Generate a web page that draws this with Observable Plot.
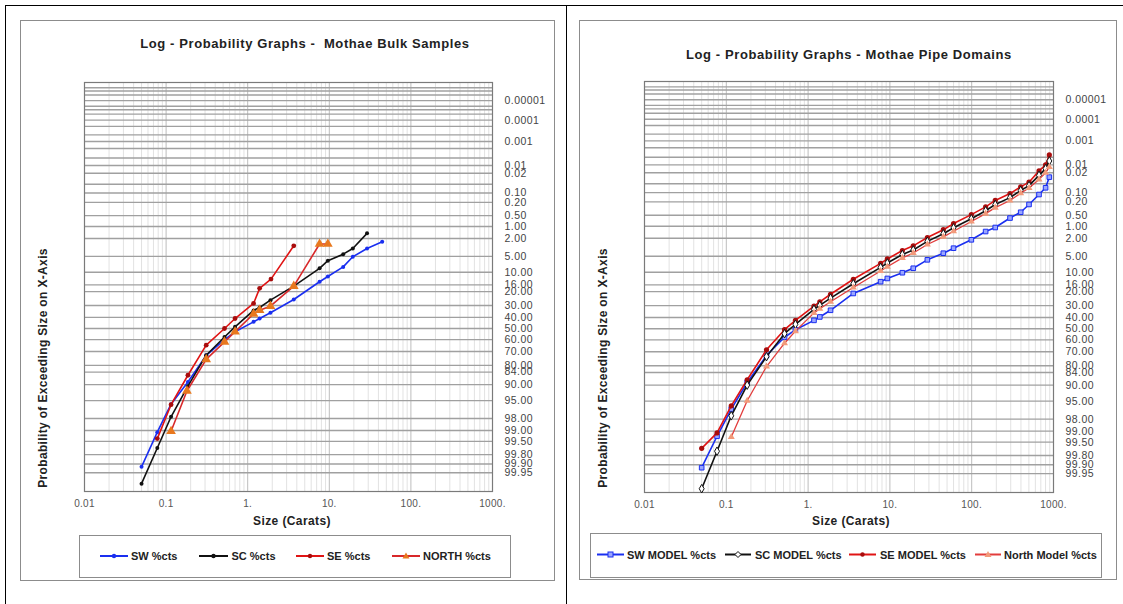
<!DOCTYPE html>
<html><head><meta charset="utf-8">
<script src="https://cdn.jsdelivr.net/npm/d3@7"></script>
<script src="https://cdn.jsdelivr.net/npm/@observablehq/plot@0.6"></script>
<style>
body{margin:0;background:#fff;}
#root{position:relative;width:1123px;height:604px;overflow:hidden;font-family:Arial,"Liberation Sans",sans-serif;color:#222;}
.abs{position:absolute;}
.title{font-weight:bold;font-size:13px;letter-spacing:0.6px;white-space:pre;text-align:center;width:440px;}
.ylab{font-weight:bold;font-size:12px;letter-spacing:0.35px;white-space:nowrap;transform:translate(-50%,-50%) rotate(-90deg);}
.xlab{font-weight:bold;font-size:12px;letter-spacing:0.4px;white-space:nowrap;transform:translate(-50%,-50%);}
.leg{font-weight:bold;font-size:11px;white-space:pre;transform:translateY(-50%);}
.box{border:1px solid #8c8c8c;box-sizing:border-box;}
svg [aria-label="y-axis tick label"] text{letter-spacing:0.45px;}
svg [aria-label="x-axis tick label"] text{letter-spacing:0.3px;}
</style></head><body><div id="root"></div>
<script>
// ---------- axis labels / ticks ----------
const xTickValues = [0.01, 0.1, 1, 10, 100, 1000];
const xTickLabels = ["0.01", "0.1", "1.", "10.", "100.", "1000."];
const yTickLabels = ["0.00001","0.0001","0.001","0.01","0.02","0.10","0.20","0.50","1.00","2.00","5.00","10.00","16.00","20.00","30.00","40.00","50.00","60.00","70.00","80.00","84.00","90.00","95.00","98.00","99.00","99.50","99.80","99.90","99.95"];
const gridPct = [0.000002,0.000003,0.000005,0.00001,0.00002,0.00003,0.00005,0.0001,0.0002,0.0005,0.001,0.002,0.005,0.01,0.02,0.05,0.1,0.2,0.5,1,2,5,10,16,20,30,40,50,60,70,80,84,90,95,98,99,99.5,99.8,99.9,99.95];
const yDomainPct = [99.99, 0.000001];

// ---------- Bulk samples (left) ----------
const bulkSW_size = [0.05,0.078,0.115,0.185,0.31,0.52,0.70,1.18,1.40,1.90,3.67,7.6,9.6,14.8,19.4,29,44.5];
const bulkSW_pct  = [99.92,99.1,95.8,88.9,73,60,53,44,41,36,25.4,14.3,11.8,8.0,5.1,3.4,2.4];
const bulkSC_size = [0.05,0.078,0.115,0.185,0.31,0.52,0.70,1.18,1.40,1.90,3.67,7.6,9.6,14.8,19.4,29];
const bulkSC_pct  = [99.98,99.68,97.8,90.6,72.9,57.7,48.5,34,31.6,25.9,16.7,8.5,6.1,4.5,3.4,1.5];
const bulkSE_size = [0.078,0.115,0.185,0.31,0.52,0.70,1.18,1.40,1.93,3.67];
const bulkSE_pct  = [99.4,95.9,85.7,64.8,50,41,28.4,18,13,2.96];
const bulkNO_size = [0.115,0.18,0.31,0.52,0.70,1.18,1.40,1.90,3.67,7.6,9.6];
const bulkNO_pct  = [99.05,92.3,76,62,53,37,33.8,30.5,16.7,2.7,2.7];

// ---------- Pipe domains models (right) ----------
const modSW_size = [0.05,0.077,0.115,0.18,0.31,0.515,0.70,1.18,1.39,1.88,3.57,7.7,9.3,14.2,19.3,28.7,45,60,99,148,194,294,397,502,665,800,889];
const modSW_pct  = [99.92,99.27,96.6,88.9,72.9,57.7,51,42.5,39.5,33.8,21.2,14.3,12.7,10.2,8.5,5.9,4.33,3.38,2.18,1.37,1.08,0.6,0.41,0.24,0.116,0.069,0.029];
const modSC_size = [0.05,0.077,0.115,0.18,0.31,0.515,0.70,1.18,1.39,1.88,3.57,7.7,9.3,14.2,19.3,28.7,45,60,99,148,194,294,397,502,665,800,889];
const modSC_pct  = [99.986,99.73,97.6,90,73.7,54.5,46,33,29.8,24.4,15.4,8.2,6.8,4.6,3.7,2.37,1.56,1.1,0.63,0.37,0.24,0.146,0.085,0.058,0.025,0.014,0.007];
const modSE_size = [0.05,0.077,0.115,0.18,0.31,0.515,0.70,1.18,1.39,1.88,3.57,7.7,9.3,14.2,19.3,28.7,45,60,99,148,194,294,397,502,665,800,889];
const modSE_pct  = [99.67,99.1,96,87.7,68.4,50.9,42.5,30.5,27.2,21.7,13.1,6.9,5.67,3.8,3.0,1.92,1.23,0.85,0.48,0.285,0.18,0.108,0.064,0.044,0.017,0.010,0.004];
const modNO_size = [0.115,0.18,0.31,0.515,0.70,1.18,1.39,1.88,3.57,7.7,9.3,14.2,19.3,28.7,45,60,99,148,194,294,397,502,665,800,889];
const modNO_pct  = [99.3,94.9,80.5,62.9,52.2,36,32.5,27,17.5,9.5,8,5.4,4.3,2.8,1.85,1.35,0.75,0.45,0.3,0.18,0.105,0.07,0.035,0.02,0.012];

// ---------- helpers ----------
function invNorm(p){
  const a=[-3.969683028665376e+01,2.209460984245205e+02,-2.759285104469687e+02,1.383577518672690e+02,-3.066479806614716e+01,2.506628277459239e+00];
  const b=[-5.447609879822406e+01,1.615858368580409e+02,-1.556989798598866e+02,6.680131188771972e+01,-1.328068155288572e+01];
  const c=[-7.784894002430293e-03,-3.223964580411365e-01,-2.400758277161838e+00,-2.549732539343734e+00,4.374664141464968e+00,2.938163982698783e+00];
  const d=[7.784695709041462e-03,3.224671290700398e-01,2.445134137142996e+00,3.754408661907416e+00];
  const pl=0.02425;
  if(p<pl){const q=Math.sqrt(-2*Math.log(p));return (((((c[0]*q+c[1])*q+c[2])*q+c[3])*q+c[4])*q+c[5])/((((d[0]*q+d[1])*q+d[2])*q+d[3])*q+1);}
  if(p<=1-pl){const q=p-0.5,r=q*q;return (((((a[0]*r+a[1])*r+a[2])*r+a[3])*r+a[4])*r+a[5])*q/(((((b[0]*r+b[1])*r+b[2])*r+b[3])*r+b[4])*r+1);}
  const q=Math.sqrt(-2*Math.log(1-p));return -(((((c[0]*q+c[1])*q+c[2])*q+c[3])*q+c[4])*q+c[5])/((((d[0]*q+d[1])*q+d[2])*q+d[3])*q+1);
}
// probability of exceeding (in %) -> standard normal position (upwards = rarer)
const zOf = pct => -invNorm(pct/100);
const rows = (sizes, pcts) => sizes.map((s,i)=>({size:s, z:zOf(pcts[i])}));

const yTickZ = yTickLabels.map(l => zOf(parseFloat(l)));
const yLabelMap = new Map(yTickZ.map((z,i)=>[z, yTickLabels[i]]));
const xLabelMap = new Map(xTickValues.map((v,i)=>[v, xTickLabels[i]]));
const gridZ = gridPct.map(zOf);
const minorX = [];
for (let e=-2;e<3;e++) for (let k=2;k<10;k++) minorX.push(k*Math.pow(10,e));

const FONT = 'Arial, "Liberation Sans", sans-serif';

function panel(opts){
  const {width,height,ml,mr,mt,mb,series} = opts;
  const marks = [
    Plot.ruleX(minorX, {stroke:"#e2e2e2", strokeWidth:1}),
    Plot.ruleX(xTickValues, {stroke:"#bdbdbd", strokeWidth:1}),
    Plot.ruleY(gridZ, {stroke:"#a0a0a0", strokeWidth:1.4}),
    Plot.frame({stroke:"#7a7a7a", strokeWidth:1.2}),
    Plot.axisX({ticks:xTickValues, tickFormat:d=>xLabelMap.get(d), tickSize:0, tickPadding:8, fontSize:10, fill:"#555", label:null}),
    Plot.axisY({anchor:"right", ticks:yTickZ, tickFormat:d=>yLabelMap.get(d), tickSize:0, tickPadding:12, fontSize:10.5, fill:"#444", label:null})
  ];
  for (const s of series){
    marks.push(Plot.line(s.data, {x:"size", y:"z", stroke:s.color, strokeWidth:s.sw||1.6}));
    marks.push(Plot.dot(s.data, {x:"size", y:"z", symbol:s.symbol, r:s.r, fill:s.fill, stroke:s.mstroke||"none", strokeWidth:1}));
  }
  return Plot.plot({
    width, height, marginLeft:ml, marginRight:mr, marginTop:mt, marginBottom:mb,
    x:{type:"log", domain:[0.01,1000]},
    y:{type:"linear", domain:[zOf(yDomainPct[0]), zOf(yDomainPct[1])]},
    style:{fontFamily:FONT, background:"transparent", overflow:"visible"},
    marks
  });
}

const BLUE="#1a2ff0", RED="#e01414", DRED="#a80c0c", ORANGE="#e8781e";

const root = document.getElementById("root");
function add(html){ root.insertAdjacentHTML("beforeend", html); }

// outer table lines
add(`<div class="abs" style="left:5px;top:5px;width:1118px;height:0;border-top:1.5px solid #000"></div>`);
add(`<div class="abs" style="left:5px;top:5px;width:0;height:600px;border-left:1.5px solid #000"></div>`);
add(`<div class="abs" style="left:566px;top:5px;width:0;height:600px;border-left:1.5px solid #000"></div>`);

// chart-area boxes
add(`<div class="abs box" style="left:20px;top:20px;width:535px;height:561px"></div>`);
add(`<div class="abs box" style="left:579px;top:20px;width:538px;height:560px"></div>`);

// left plot
const left = panel({width:534,height:560,ml:64,mr:62,mt:62,mb:89,series:[
  {data:rows(bulkSW_size,bulkSW_pct), color:BLUE, symbol:"circle", r:2, fill:BLUE},
  {data:rows(bulkSC_size,bulkSC_pct), color:"#111", symbol:"circle", r:2, fill:"#111"},
  {data:rows(bulkSE_size,bulkSE_pct), color:RED, symbol:"circle", r:2.4, fill:DRED},
  {data:rows(bulkNO_size,bulkNO_pct), color:"#d8282a", symbol:"triangle", r:3.6, fill:ORANGE}
]});
left.style.position="absolute"; left.style.left="20px"; left.style.top="20px";
root.appendChild(left);

// right plot
const right = panel({width:537,height:559,ml:65,mr:63,mt:61,mb:87,series:[
  {data:rows(modSW_size,modSW_pct), color:BLUE, symbol:"square", r:2.6, fill:"#9aa6ff", mstroke:BLUE},
  {data:rows(modSE_size,modSE_pct), color:RED, symbol:"circle", r:2.6, fill:DRED},
  {data:rows(modSC_size,modSC_pct), color:"#111", symbol:"diamond", r:2.6, fill:"#fff", mstroke:"#111"},
  {data:rows(modNO_size,modNO_pct), color:"#e23c3c", symbol:"triangle", r:2.6, fill:"#f29a7a", sw:1.3}
]});
right.style.position="absolute"; right.style.left="579px"; right.style.top="20px";
root.appendChild(right);

// titles
add(`<div class="abs title" style="left:${305-220}px;top:36px">Log - Probability Graphs -  Mothae Bulk Samples</div>`);
add(`<div class="abs title" style="left:${849-220}px;top:47px">Log - Probability Graphs - Mothae Pipe Domains</div>`);

// axis titles
const YT = "Probability of Exceeding Size on X-Axis";
add(`<div class="abs ylab" style="left:43px;top:368px">${YT}</div>`);
add(`<div class="abs ylab" style="left:603px;top:368px">${YT}</div>`);
add(`<div class="abs xlab" style="left:292px;top:521px">Size (Carats)</div>`);
add(`<div class="abs xlab" style="left:851px;top:521px">Size (Carats)</div>`);

// legends
add(`<div class="abs box" style="left:79px;top:535px;width:432px;height:43px"></div>`);
add(`<div class="abs box" style="left:590px;top:533px;width:512px;height:45px"></div>`);

function swatch(x1,x2,y,color,sym,mfill,mstroke){
  const cx=(x1+x2)/2;
  let m="";
  if(sym==="circle") m=`<circle cx="${cx}" cy="${y}" r="2.2" fill="${mfill}" stroke="${mstroke||'none'}"/>`;
  if(sym==="triangle") m=`<path d="M${cx},${y-3.5}L${cx+3.5},${y+2.5}L${cx-3.5},${y+2.5}Z" fill="${mfill}"/>`;
  if(sym==="square") m=`<rect x="${cx-2.5}" y="${y-2.5}" width="5" height="5" fill="${mfill}" stroke="${mstroke}"/>`;
  if(sym==="diamond") m=`<path d="M${cx},${y-3}L${cx+3},${y}L${cx},${y+3}L${cx-3},${y}Z" fill="${mfill}" stroke="${mstroke}"/>`;
  return `<line x1="${x1}" y1="${y}" x2="${x2}" y2="${y}" stroke="${color}" stroke-width="2"/>${m}`;
}
const legItemsL = [
  [100,128,131,"SW %cts",BLUE,"circle",BLUE],
  [199,228,231.5,"SC %cts","#111","circle","#111"],
  [296,324,327,"SE %cts",RED,"circle",DRED],
  [392,420,423,"NORTH %cts","#d8282a","triangle",ORANGE]
];
const legItemsR = [
  [597,624,627,"SW MODEL %cts",BLUE,"square","#9aa6ff",BLUE],
  [725,751,755,"SC MODEL %cts","#111","diamond","#fff","#111"],
  [849,876,880,"SE MODEL %cts",RED,"circle",DRED],
  [975,1001,1004,"North Model %cts","#e23c3c","triangle","#f29a7a"]
];
let sw = `<svg class="abs" style="left:0;top:0" width="1123" height="604">`;
for (const it of legItemsL) sw += swatch(it[0],it[1],556,it[4],it[5],it[6],it[7]);
for (const it of legItemsR) sw += swatch(it[0],it[1],554.5,it[4],it[5],it[6],it[7]);
sw += `</svg>`;
add(sw);
for (const it of legItemsL) add(`<div class="abs leg" style="left:${it[2]}px;top:556px">${it[3]}</div>`);
for (const it of legItemsR) add(`<div class="abs leg" style="left:${it[2]}px;top:554.5px">${it[3]}</div>`);
</script>
</body></html>
